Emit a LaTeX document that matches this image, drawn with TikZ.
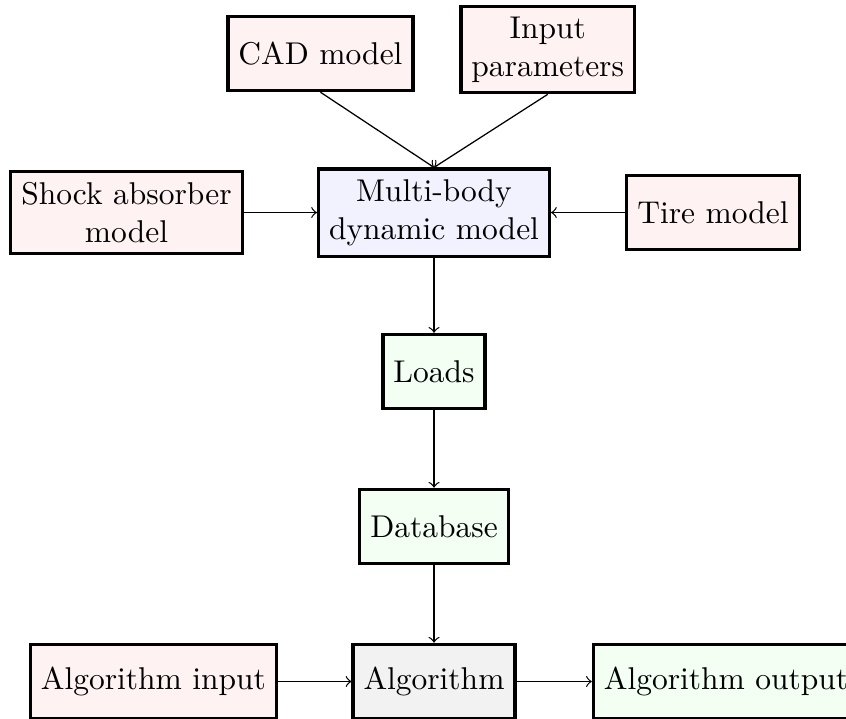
\documentclass[tikz,border=0pt]{standalone}
\usepackage{tikz}

\tikzstyle{block}=[draw,line width=1pt,align=center,minimum height=0.83cm]
\tikzstyle{arrowdecorate}=[->,thin]

\begin{document}
\begin{tikzpicture}
      \useasboundingbox (-4.844,-5.642) rectangle (4.598,2.372);
      %nodes
      \foreach \nodename/\x/\y/\fillcol/\txt in {
        multi/0/0/blue!5/{Multi-body\\dynamic model},
        cad/-1.267/1.775/red!5/{CAD model},
        input/1.269/1.819/red!5/{Input\\parameters},
        shock/-3.432/0/red!5/{Shock absorber\\model},
        tire/3.114/0/red!5/{Tire model},
        loads/0/-1.775/green!5/{Loads},
        db/0/-3.504/green!5/{Database},
        algo/0/-5.234/gray!10/{Algorithm},
        algoin/-3.131/-5.234/red!5/{Algorithm input},
        algoout/3.259/-5.234/green!5/{Algorithm output}}
      {
        \node[block, fill=\fillcol] (\nodename) at (\x,\y) {\txt};
      };
      %edges
      \path
      \foreach \startnode/\endnode in {
        cad.south/multi.north, input.south/multi.north, shock/multi, tire/multi,
        multi/loads, loads/db, db/algo, algoin/algo, algo/algoout}
      {
        (\startnode) edge[arrowdecorate] (\endnode)
      };
\end{tikzpicture}
\end{document}
